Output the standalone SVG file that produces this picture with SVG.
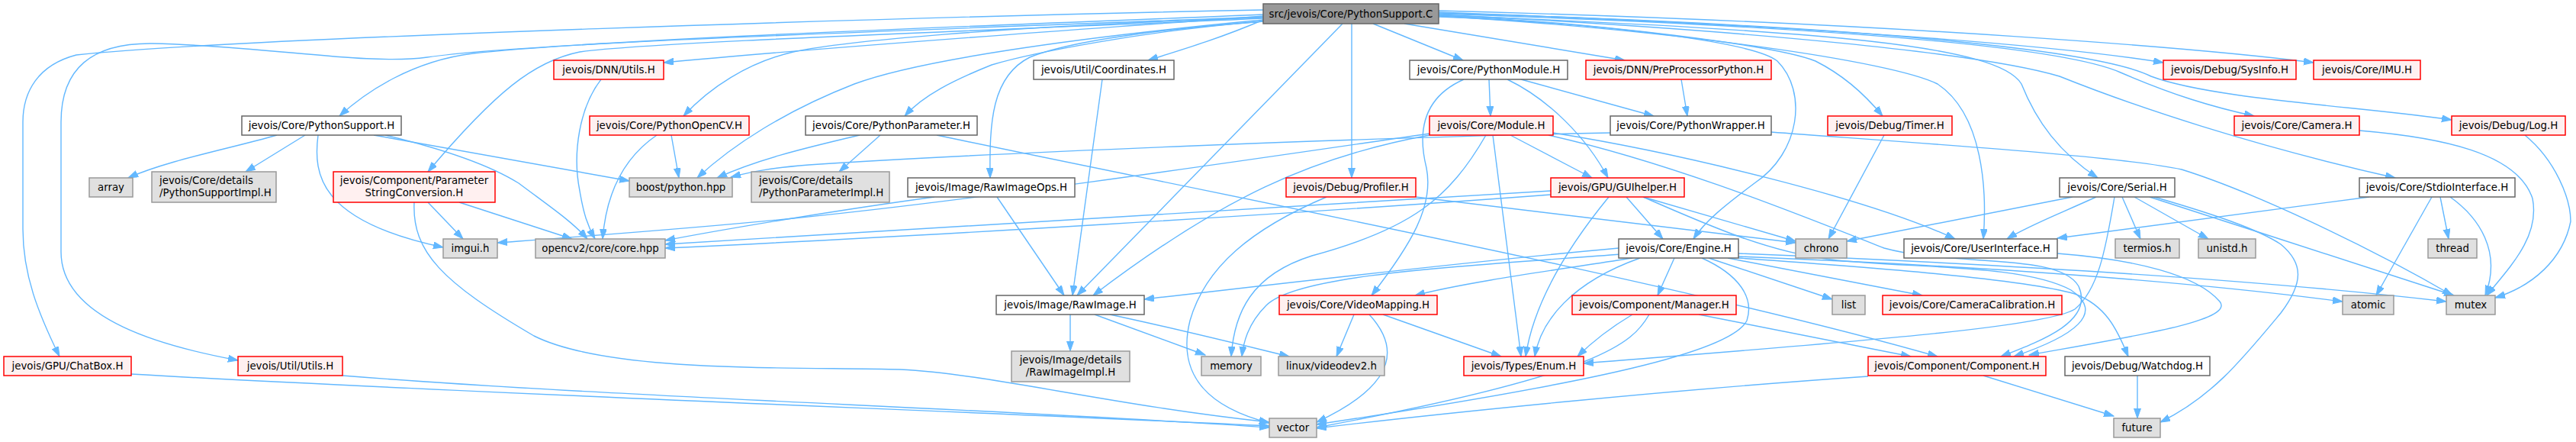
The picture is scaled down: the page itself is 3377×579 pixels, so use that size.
<svg xmlns="http://www.w3.org/2000/svg" width="3377" height="579" viewBox="0 0 3377 579">
<style>
text{font-family:"DejaVu Sans","Liberation Sans",sans-serif;font-size:13.33px;fill:#000;text-anchor:middle}
text.l{text-anchor:start}
.w rect{fill:#fff;stroke:#666;stroke-width:1.5}
.r rect{fill:#fff0f0;stroke:#f00;stroke-width:1.5}
.g rect{fill:#e0e0e0;stroke:#999;stroke-width:1.5}
.root rect{fill:#999;stroke:#666;stroke-width:1.5}
#edges path{fill:none;stroke:#63b8ff;stroke-width:1.4;marker-end:url(#ah)}
</style>
<defs>
<marker id="ah" markerUnits="userSpaceOnUse" markerWidth="14" markerHeight="10" refX="13" refY="4.5" orient="auto">
<path d="M0,0 L13,4.5 L0,9 z" fill="#63b8ff" stroke="#63b8ff" stroke-width="1"/>
</marker>
</defs>
<rect width="3377" height="579" fill="#fff"/>
<g id="edges">
<path d="M1656,19 C1400,30 800,50 620,70 C540,80 480,120 445,152"/>
<path d="M1656,13 C1200,22 300,50 100,72 C50,85 30,120 30,160 L30,300 C30,360 50,410 78,467"/>
<path d="M1656,22 C1200,40 700,55 560,75 C480,86 350,60 200,57 C120,56 80,90 80,160 L80,330 C80,420 220,455 312,472"/>
<path d="M1656,24 C1300,40 850,55 760,68 C700,80 650,120 561,225"/>
<path d="M1656,21 C1400,40 1100,60 870,82"/>
<path d="M1656,23 C1300,35 1100,55 1040,68 C980,82 930,115 896,152"/>
<path d="M1656,26 C1400,50 1200,80 1120,110 C1030,145 960,190 914,233"/>
<path d="M1656,28 C1500,40 1350,70 1300,85 C1250,105 1210,125 1186,152"/>
<path d="M1656,28 C1500,40 1400,55 1350,75 C1300,100 1297,160 1298,233"/>
<path d="M1656,26 C1600,50 1550,65 1505,79"/>
<path d="M1760,31 L1412,387"/>
<path d="M1772,31 L1772,233"/>
<path d="M1800,31 L1918,79"/>
<path d="M1841,31 L2130,79"/>
<path d="M1886,22 C2100,30 2300,55 2330,80 C2370,120 2360,200 2300,240 C2260,270 2235,290 2220,313"/>
<path d="M1886,20 C2100,30 2330,60 2380,80 C2420,100 2450,130 2468,152"/>
<path d="M1886,21 C2200,40 2480,80 2540,110 C2600,150 2605,250 2600,313"/>
<path d="M1886,20 C2400,40 2620,60 2650,110 C2670,160 2700,200 2750,233"/>
<path d="M1886,16 C2400,35 2700,60 2836,82"/>
<path d="M1886,14 C2500,30 2900,65 3033,82"/>
<path d="M1886,18 C2400,35 2700,60 2780,95 C2850,125 2900,140 2955,152"/>
<path d="M1886,17 C2500,35 2760,70 2820,100 C2900,130 3100,140 3214,157"/>
<path d="M1886,19 C2300,40 2600,70 2700,100 C2800,140 2950,190 3140,233"/>
<path d="M363,177 C300,195 220,210 168,233"/>
<path d="M400,177 L322,225"/>
<path d="M417,177 C410,230 420,290 581,324"/>
<path d="M490,177 L825,237"/>
<path d="M505,177 C580,195 640,215 680,240 C720,270 750,290 770,313"/>
<path d="M561,265 L607,313"/>
<path d="M602,265 L750,313"/>
<path d="M543,265 C540,330 580,370 700,440 C800,490 1050,480 1180,484 C1300,490 1450,530 1664,553"/>
<path d="M788,104 C760,140 750,200 760,250 C765,280 770,295 780,313"/>
<path d="M861,177 C820,205 795,250 790,313"/>
<path d="M880,177 L890,233"/>
<path d="M1127,177 C1050,195 990,210 940,233"/>
<path d="M1154,177 L1100,225"/>
<path d="M1228,177 C1600,255 2200,370 2540,467"/>
<path d="M1307,258 L1395,387"/>
<path d="M1225,258 C1100,275 950,300 872,315"/>
<path d="M1445,104 L1406,387"/>
<path d="M1403,412 L1403,460"/>
<path d="M1435,412 L1580,465"/>
<path d="M1455,412 C1540,430 1620,450 1690,467"/>
<path d="M1952,104 L1954,152"/>
<path d="M1919,104 C1860,130 1860,180 1870,220 C1880,270 1850,320 1798,387"/>
<path d="M1976,104 C2030,130 2080,180 2108,233"/>
<path d="M1994,104 L2168,152"/>
<path d="M2204,104 L2212,152"/>
<path d="M2111,174 C1800,180 1300,200 1060,216 C1010,220 985,225 958,232"/>
<path d="M2322,173 C2550,190 2780,205 2860,222 C2950,250 3100,320 3215,387"/>
<path d="M1874,175 C1700,200 1300,260 1040,286 C900,300 760,310 652,318"/>
<path d="M1874,177 C1720,205 1600,260 1433,387"/>
<path d="M1948,177 C1900,260 1850,300 1720,335 C1640,360 1618,410 1614,467"/>
<path d="M1957,177 L1994,467"/>
<path d="M1980,177 L2087,233"/>
<path d="M2036,174 C2200,200 2450,260 2563,313"/>
<path d="M2030,177 C2200,215 2380,290 2470,325 C2560,350 2700,330 2725,375 C2745,420 2680,445 2623,467"/>
<path d="M2033,250 C1700,270 1200,300 872,320"/>
<path d="M2033,255 C1700,280 1200,310 872,325"/>
<path d="M2109,258 C2050,330 2010,400 2000,467"/>
<path d="M2132,258 L2180,313"/>
<path d="M2154,258 L2354,316"/>
<path d="M2154,258 C2250,300 2320,330 2400,340 C2500,352 2650,345 2715,380 C2760,410 2720,440 2640,467"/>
<path d="M2195,338 L2173,387"/>
<path d="M2125,333 C1900,350 1700,360 1660,400 C1635,425 1630,450 1628,467"/>
<path d="M2122,325 C1900,345 1650,375 1500,392"/>
<path d="M2140,338 C2030,355 1920,370 1855,387"/>
<path d="M2150,338 C2060,370 2020,420 2012,467"/>
<path d="M2240,338 L2402,392"/>
<path d="M2265,338 L2520,387"/>
<path d="M2231,338 C2280,360 2300,390 2290,420 C2270,460 2100,500 1726,556"/>
<path d="M2279,336 C2500,345 2800,360 3071,395"/>
<path d="M2279,332 C2600,345 2950,365 3207,395"/>
<path d="M2279,338 C2450,350 2650,365 2720,385 C2760,400 2775,430 2790,467"/>
<path d="M2227,412 L2505,467"/>
<path d="M2140,412 C2110,430 2085,450 2068,467"/>
<path d="M2162,412 C2140,450 2100,490 1726,560"/>
<path d="M2449,493 C2200,510 1900,540 1726,561"/>
<path d="M2600,492 L2771,545"/>
<path d="M2717,258 C2600,280 2500,300 2421,316"/>
<path d="M2748,258 C2700,280 2660,295 2631,313"/>
<path d="M2782,258 L2806,313"/>
<path d="M2798,258 L2895,313"/>
<path d="M2818,258 C2950,300 3100,350 3217,387"/>
<path d="M2824,258 C2900,280 2960,300 2990,320 C3020,345 3020,370 2990,410 C2940,470 2900,520 2832,553"/>
<path d="M2772,258 C2760,330 2750,380 2720,405 C2680,430 2400,450 2076,476"/>
<path d="M3106,258 L2697,312"/>
<path d="M3188,258 L3115,387"/>
<path d="M3199,258 L3210,313"/>
<path d="M3212,258 C3250,285 3280,330 3258,387"/>
<path d="M3093,171 C3200,180 3300,200 3320,260 C3330,310 3290,350 3260,387"/>
<path d="M3310,177 C3350,210 3370,260 3370,290 C3360,340 3320,375 3271,390"/>
<path d="M2470,177 L2397,313"/>
<path d="M1856,258 L2354,318"/>
<path d="M1739,258 C1640,300 1580,350 1560,420 C1545,480 1570,530 1664,554"/>
<path d="M2697,332 C2800,340 2880,360 2910,395 C2930,420 2800,440 2660,465"/>
<path d="M2802,492 L2802,548"/>
<path d="M1775,412 L1752,467"/>
<path d="M1795,412 C1830,450 1840,500 1726,553"/>
<path d="M1813,412 L1968,467"/>
<path d="M172,490 C600,515 1300,540 1664,558"/>
<path d="M449,492 C800,520 1300,535 1664,560"/>
</g>
<g id="n_root" class="root"><rect x="1656" y="5" width="230" height="26"/><text x="1771" y="23">src/jevois/Core/PythonSupport.C</text></g>
<g id="n_dnnutils" class="r"><rect x="726" y="79" width="144" height="25"/><text x="798" y="96">jevois/DNN/Utils.H</text></g>
<g id="n_coords" class="w"><rect x="1355" y="79" width="184" height="25"/><text x="1447" y="96">jevois/Util/Coordinates.H</text></g>
<g id="n_pymod" class="w"><rect x="1848" y="79" width="207" height="25"/><text x="1951.5" y="96">jevois/Core/PythonModule.H</text></g>
<g id="n_preproc" class="r"><rect x="2079" y="79" width="243" height="25"/><text x="2200.5" y="96">jevois/DNN/PreProcessorPython.H</text></g>
<g id="n_sysinfo" class="r"><rect x="2836" y="79" width="174" height="25"/><text x="2923" y="96">jevois/Debug/SysInfo.H</text></g>
<g id="n_imu" class="r"><rect x="3033" y="79" width="140" height="25"/><text x="3103" y="96">jevois/Core/IMU.H</text></g>
<g id="n_pysup" class="w"><rect x="317" y="152" width="209" height="25"/><text x="421.5" y="169">jevois/Core/PythonSupport.H</text></g>
<g id="n_pyocv" class="r"><rect x="773" y="152" width="209" height="25"/><text x="877.5" y="169">jevois/Core/PythonOpenCV.H</text></g>
<g id="n_pyparam" class="w"><rect x="1056" y="152" width="225" height="25"/><text x="1168.5" y="169">jevois/Core/PythonParameter.H</text></g>
<g id="n_module" class="r"><rect x="1874" y="152" width="162" height="25"/><text x="1955" y="169">jevois/Core/Module.H</text></g>
<g id="n_pywrap" class="w"><rect x="2111" y="152" width="211" height="25"/><text x="2216.5" y="169">jevois/Core/PythonWrapper.H</text></g>
<g id="n_timer" class="r"><rect x="2396" y="152" width="163" height="25"/><text x="2477.5" y="169">jevois/Debug/Timer.H</text></g>
<g id="n_camera" class="r"><rect x="2929" y="152" width="164" height="25"/><text x="3011" y="169">jevois/Core/Camera.H</text></g>
<g id="n_log" class="r"><rect x="3214" y="152" width="149" height="25"/><text x="3288.5" y="169">jevois/Debug/Log.H</text></g>
<g id="n_array" class="g"><rect x="117" y="233" width="57" height="25"/><text x="145.5" y="250">array</text></g>
<g id="n_pysupimpl" class="g"><rect x="199" y="225" width="163" height="40"/><text class="l" x="209" y="241">jevois/Core/details</text><text class="l" x="209" y="257">/PythonSupportImpl.H</text></g>
<g id="n_paramstr" class="r"><rect x="437" y="225" width="212" height="40"/><text x="543" y="241">jevois/Component/Parameter</text><text x="543" y="257">StringConversion.H</text></g>
<g id="n_boost" class="g"><rect x="825" y="233" width="135" height="25"/><text x="892.5" y="250">boost/python.hpp</text></g>
<g id="n_pyparamimpl" class="g"><rect x="985" y="225" width="181" height="40"/><text class="l" x="995" y="241">jevois/Core/details</text><text class="l" x="995" y="257">/PythonParameterImpl.H</text></g>
<g id="n_rawops" class="w"><rect x="1190" y="233" width="219" height="25"/><text x="1299.5" y="250">jevois/Image/RawImageOps.H</text></g>
<g id="n_profiler" class="r"><rect x="1686" y="233" width="170" height="25"/><text x="1771" y="250">jevois/Debug/Profiler.H</text></g>
<g id="n_guihelper" class="r"><rect x="2033" y="233" width="175" height="25"/><text x="2120.5" y="250">jevois/GPU/GUIhelper.H</text></g>
<g id="n_serial" class="w"><rect x="2700" y="233" width="151" height="25"/><text x="2775.5" y="250">jevois/Core/Serial.H</text></g>
<g id="n_stdio" class="w"><rect x="3093" y="233" width="204" height="25"/><text x="3195" y="250">jevois/Core/StdioInterface.H</text></g>
<g id="n_imgui" class="g"><rect x="581" y="313" width="71" height="25"/><text x="616.5" y="330">imgui.h</text></g>
<g id="n_core" class="g"><rect x="702" y="313" width="170" height="25"/><text x="787" y="330">opencv2/core/core.hpp</text></g>
<g id="n_engine" class="w"><rect x="2122" y="313" width="157" height="25"/><text x="2200.5" y="330">jevois/Core/Engine.H</text></g>
<g id="n_chrono" class="g"><rect x="2354" y="313" width="67" height="25"/><text x="2387.5" y="330">chrono</text></g>
<g id="n_ui" class="w"><rect x="2496" y="313" width="201" height="25"/><text x="2596.5" y="330">jevois/Core/UserInterface.H</text></g>
<g id="n_termios" class="g"><rect x="2773" y="313" width="84" height="25"/><text x="2815" y="330">termios.h</text></g>
<g id="n_unistd" class="g"><rect x="2882" y="313" width="75" height="25"/><text x="2919.5" y="330">unistd.h</text></g>
<g id="n_thread" class="g"><rect x="3183" y="313" width="64" height="25"/><text x="3215" y="330">thread</text></g>
<g id="n_rawimage" class="w"><rect x="1306" y="387" width="194" height="25"/><text x="1403" y="404">jevois/Image/RawImage.H</text></g>
<g id="n_videomap" class="r"><rect x="1677" y="387" width="207" height="25"/><text x="1780.5" y="404">jevois/Core/VideoMapping.H</text></g>
<g id="n_manager" class="r"><rect x="2061" y="387" width="215" height="25"/><text x="2168.5" y="404">jevois/Component/Manager.H</text></g>
<g id="n_list" class="g"><rect x="2402" y="387" width="43" height="25"/><text x="2423.5" y="404">list</text></g>
<g id="n_camcal" class="r"><rect x="2468" y="387" width="235" height="25"/><text x="2585.5" y="404">jevois/Core/CameraCalibration.H</text></g>
<g id="n_atomic" class="g"><rect x="3071" y="387" width="67" height="25"/><text x="3104.5" y="404">atomic</text></g>
<g id="n_mutex" class="g"><rect x="3207" y="387" width="64" height="25"/><text x="3239" y="404">mutex</text></g>
<g id="n_chatbox" class="r"><rect x="5" y="467" width="167" height="25"/><text x="88.5" y="484">jevois/GPU/ChatBox.H</text></g>
<g id="n_utils" class="r"><rect x="312" y="467" width="137" height="25"/><text x="380.5" y="484">jevois/Util/Utils.H</text></g>
<g id="n_rawimpl" class="g"><rect x="1326" y="460" width="155" height="40"/><text x="1403.5" y="476">jevois/Image/details</text><text x="1403.5" y="492">/RawImageImpl.H</text></g>
<g id="n_memory" class="g"><rect x="1575" y="467" width="78" height="25"/><text x="1614" y="484">memory</text></g>
<g id="n_videodev" class="g"><rect x="1676" y="467" width="139" height="25"/><text x="1745.5" y="484">linux/videodev2.h</text></g>
<g id="n_enum" class="r"><rect x="1919" y="467" width="157" height="25"/><text x="1997.5" y="484">jevois/Types/Enum.H</text></g>
<g id="n_component" class="r"><rect x="2449" y="467" width="233" height="25"/><text x="2565.5" y="484">jevois/Component/Component.H</text></g>
<g id="n_watchdog" class="w"><rect x="2707" y="467" width="190" height="25"/><text x="2802" y="484">jevois/Debug/Watchdog.H</text></g>
<g id="n_vector" class="g"><rect x="1664" y="548" width="62" height="25"/><text x="1695" y="565">vector</text></g>
<g id="n_future" class="g"><rect x="2771" y="548" width="61" height="25"/><text x="2801.5" y="565">future</text></g>
</svg>
